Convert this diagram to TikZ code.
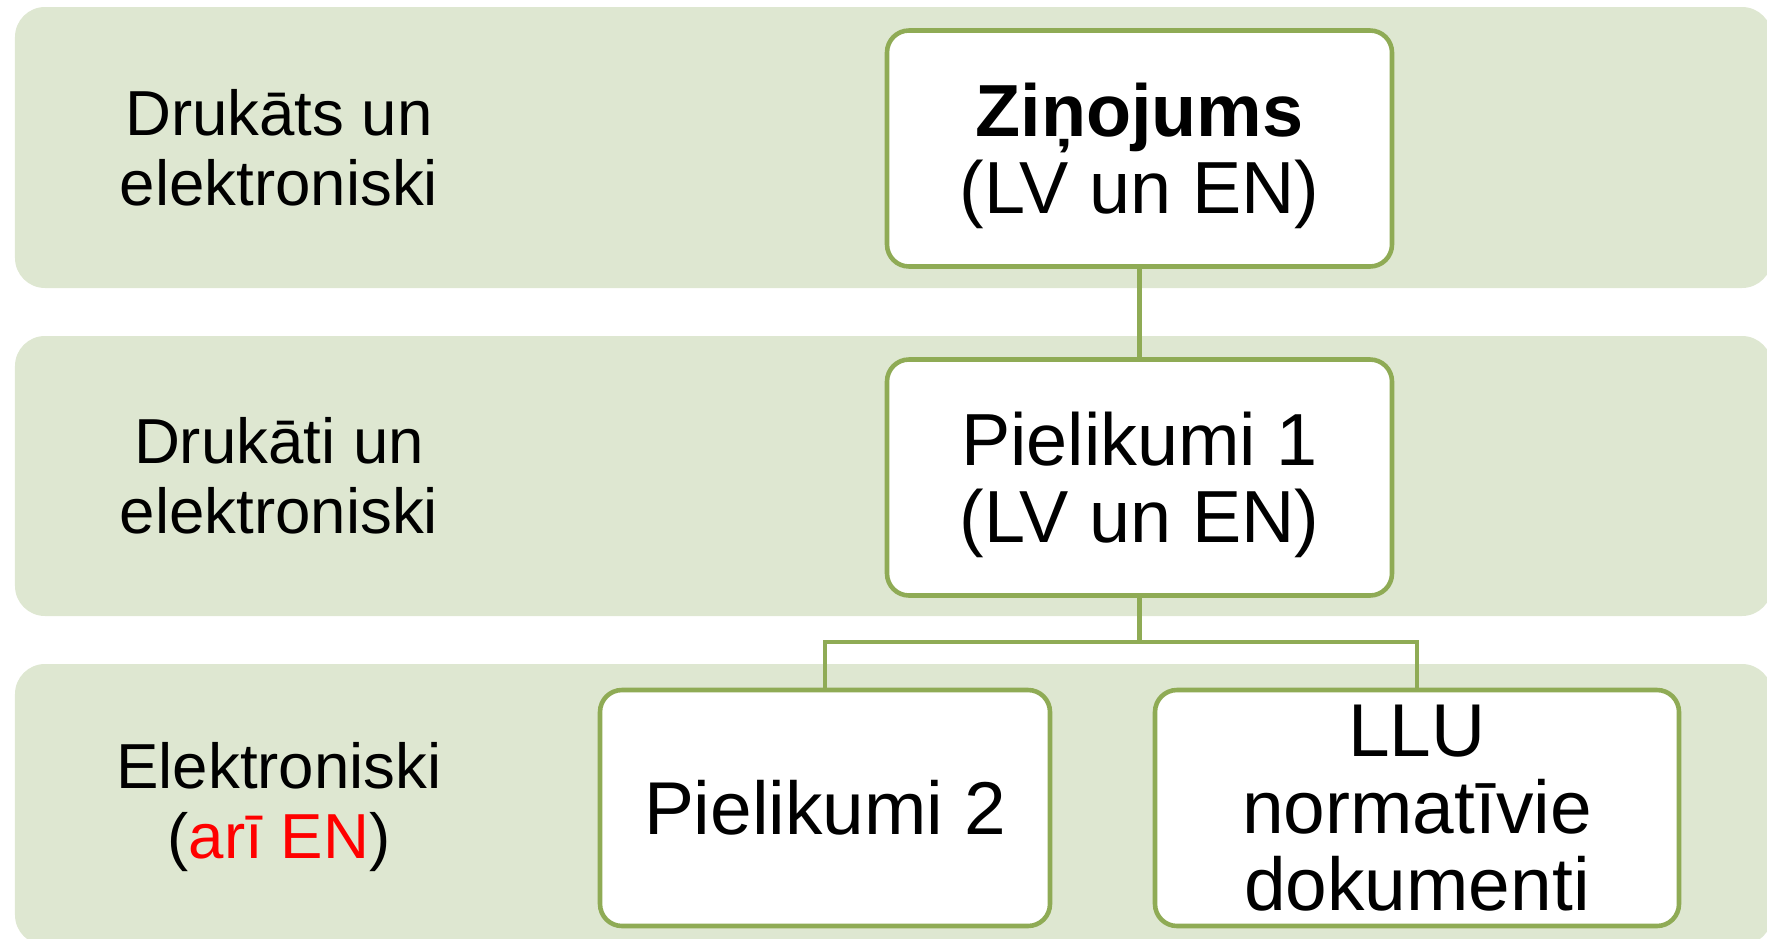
\documentclass[tikz,border=0pt]{standalone}
\usepackage{xcolor}
\usepackage{fontspec}
\setmainfont{Liberation Sans}
\usepackage{tikz}
\usetikzlibrary{positioning}

\definecolor{bandgreen}{HTML}{DEE7D1}
\definecolor{linegreen}{HTML}{8FAB55}

\tikzset{
  band/.style={fill=bandgreen, rounded corners=0.3cm},
  rowlabel/.style={align=center, font=\fontsize{18.1}{19.9}\selectfont},
  docbox/.style={draw=linegreen, line width=1.3pt, fill=white, rounded corners=0.22cm,
    align=center, inner sep=0pt, minimum height=2.36cm},
  link/.style={draw=linegreen, line width=1.3pt}
}

\begin{document}
\begin{tikzpicture}
\clip (0,0) rectangle (17.67,-9.38);

% rows
\fill[band] (0.15,-0.07) rectangle (17.72,-2.88);
\fill[band] (0.15,-3.36) rectangle (17.72,-6.16);
\fill[band] (0.15,-6.64) rectangle (17.72,-9.45);

\node[rowlabel] (printed) at (2.79,-1.48) {Drukāts un\\elektroniski};
\node[rowlabel] (printedb) at (2.79,-4.76) {Drukāti un\\elektroniski};
\node[rowlabel] (online) at (2.79,-8.07) {Elektroniski\\(\textcolor{red}{arī EN})};

% documents
\node[docbox, minimum width=5.05cm, text depth=0pt, font=\fontsize{21}{21.9}\selectfont] (report) at (11.395,-1.485)
  {{\bfseries Ziņojums}\\(LV un EN)};
\node[docbox, minimum width=5.05cm, text depth=0pt, font=\fontsize{21}{21.9}\selectfont] (annex1) at (11.395,-4.775)
  {Pielikumi 1\\(LV un EN)};
\node[docbox, minimum width=4.5cm, font=\fontsize{21.3}{21.9}\selectfont] (annex2) at (8.25,-8.08)
  {Pielikumi 2};
\node[docbox, minimum width=5.24cm, font=\fontsize{21.3}{21.9}\selectfont] (rules) at (14.17,-8.08)
  {LLU\\normatīvie\\dokumenti};

\coordinate (split) at (11.395,-6.42);
\draw[link] (report) -- (annex1);
\draw[link] (annex1) -- (split);
\draw[link] (split) -| (annex2);
\draw[link] (split) -| (rules);
\end{tikzpicture}
\end{document}
